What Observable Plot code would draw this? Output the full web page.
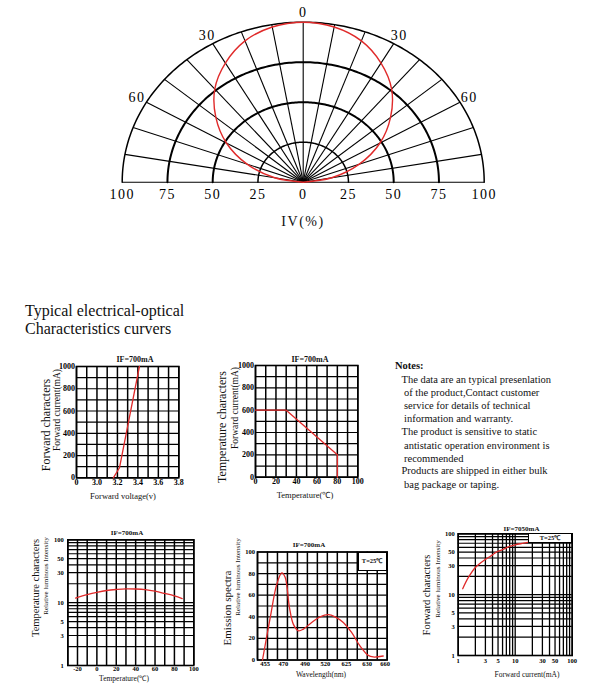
<!DOCTYPE html>
<html><head><meta charset="utf-8">
<script src="https://cdn.jsdelivr.net/npm/d3@7"></script>
<script src="https://cdn.jsdelivr.net/npm/@observablehq/plot@0.6"></script>
<style>
body{margin:0;background:#fff;}
#page{position:relative;width:602px;height:693px;overflow:hidden;font-family:"Liberation Serif","Times New Roman",serif;color:#111;}
.abs{position:absolute;white-space:nowrap;line-height:1;}
svg{overflow:visible;}
</style></head><body><div id="page"></div>
<script>
// ---------- DATA ----------
// Polar radiation pattern
const polarAngles = [-90,-80,-70,-60,-50,-40,-30,-20,-10,0,10,20,30,40,50,60,70,80,90];
const polarIntensity = [0,16,33,49,63,76,86,94,98.5,100,98.5,94,86,76,63,49,33,16,0];
const polarRings = [25,50,75,100];
const polarSpokes = [0,10,20,30,40,50,60,70,80,90,100,110,120,130,140,150,160,170,180];
const polarAngleLabels = [-60,-30,0,30,60];
const polarTicks = [-100,-75,-50,-25,0,25,50,75,100];

// Chart 1: forward voltage vs forward current
const fvVoltage = [3.16,3.22,3.415];
const fvCurrent = [0,90,1000];
const fvXGrid = [2.8,2.9,3.0,3.1,3.2,3.3,3.4,3.5,3.6,3.7,3.8];
const fvXTicks = [2.8,3.0,3.2,3.4,3.6,3.8];
const fvXTickLabels = ["0","3.0","3.2","3.4","3.6","3.8"];
const currentGrid = [0,100,200,300,400,500,600,700,800,900,1000];
const currentTicks = [0,200,400,600,800,1000];

// Chart 2: temperature vs forward current (derating)
const tcTemp = [0,30,80,80];
const tcCurrent = [600,600,200,0];
const tcXGrid = [0,10,20,30,40,50,60,70,80,90,100];
const tcXTicks = [0,20,40,60,80,100];

// Chart 3: temperature vs relative luminous intensity
const trTemp = [-22,-10,0,10,20,30,40,50,60,70,80,88];
const trIntensity = [11.8,13.4,14.6,15.6,16.2,16.6,16.5,16.1,15.2,14.0,12.8,11.6];
const trXGrid = [-30,-20,-10,0,10,20,30,40,50,60,70,80,90,100];
const trXTicks = [-20,0,20,40,60,80,100];
const logGrid = [1,2,3,4,5,6,7,8,9,10,20,30,40,50,60,70,80,90,100];
const logTicks = [1,3,5,10,30,50,100];

// Chart 4: emission spectrum (x in grid-column units of the printed axis)
const esColumn = [0.5,1.27,1.93,2.43,2.77,3.2,3.6,4.1,4.6,5.43,6.27,7.1,7.77,8.6,9.43,10.27,11.1,11.6,12.6];
const esIntensity = [0,39,70,80.7,76.7,48.8,33,27,28.6,34.8,40,42,40,34.8,25.5,13,4.3,2.8,3.7];
const esXGrid = [0,1,2,3,4,5,6,7,8,9,10,11,12,13];
const esXTickPos = [0.77,2.6,4.77,6.8,8.9,11,12.8];
const esXTickLabels = ["455","470","490","520","625","630","660"];
const esYGrid = [0,10,20,30,40,50,60,70,80,90,100];
const esYTicks = [0,20,40,60,80,100];

// Chart 5: forward current vs relative luminous intensity (log-log)
const fcCurrent = [1.2,1.5,2,3,4,4.5,6,8,10,14,19];
const fcIntensity = [12.5,19,28,38,45,49,55,62,66,70,74];

// ---------- HELPERS ----------
const page = document.getElementById("page");
const RED = "#e02a2a";
const FONT = "Liberation Serif, Times New Roman, serif";

function txt(s, cx, cy, o = {}) {
  const d = document.createElement("div");
  d.className = "abs";
  d.textContent = s;
  d.style.fontSize = (o.size || 10) + "px";
  d.style.fontWeight = o.weight || "normal";
  d.style.left = cx + "px";
  d.style.top = cy + "px";
  if (o.spacing) d.style.letterSpacing = o.spacing + "px";
  const tx = o.left ? "0" : "-50%";
  d.style.transform = `translate(${tx},-50%)`;
  if (o.rotate) d.style.transform = `translate(-50%,-50%) rotate(${o.rotate}deg)`;
  page.appendChild(d);
  return d;
}
function box(x0, y0, x1, y1, label, size) {
  const d = document.createElement("div");
  d.className = "abs";
  Object.assign(d.style, {left: x0 + "px", top: y0 + "px", width: (x1 - x0) + "px", height: (y1 - y0) + "px",
    background: "#fff", border: "1px solid #000", boxSizing: "border-box", display: "flex",
    alignItems: "center", justifyContent: "center", fontSize: size + "px", fontWeight: "bold"});
  d.textContent = label;
  page.appendChild(d);
}
function place(svg, left, top) {
  svg.style.position = "absolute";
  svg.style.left = left + "px";
  svg.style.top = top + "px";
  page.appendChild(svg);
}
function small({frame, sbox, x, y, marks, fontSize}) {
  const [x0, y0, x1, y1] = frame;
  const [sx, sy, sw, sh] = sbox;
  const svg = Plot.plot({
    width: sw, height: sh,
    marginLeft: x0 - sx, marginRight: sx + sw - x1, marginTop: y0 - sy, marginBottom: sy + sh - y1,
    x: {...x, axis: null}, y: {...y, axis: null},
    style: {fontFamily: FONT, fontSize: fontSize + "px", fontWeight: "bold", overflow: "visible", color: "#000"},
    marks
  });
  place(svg, sx, sy);
}
const gridX = (v, w = 1.3) => Plot.ruleX(v, {stroke: "#000", strokeWidth: w});
const gridY = (v, w = 1.3) => Plot.ruleY(v, {stroke: "#000", strokeWidth: w});
const frameMark = () => Plot.frame({stroke: "#000", strokeWidth: 1.6});
const xLabels = (ticks, pad, labels) => Plot.text(ticks, {x: d => d, text: (d, i) => labels ? labels[i] : String(d), frameAnchor: "bottom", lineAnchor: "top", dy: pad, fill: "#000"});
const yLabels = (ticks, pad) => Plot.text(ticks, {y: d => d, text: d => String(d), frameAnchor: "left", textAnchor: "end", dx: -pad, fill: "#000"});

// ---------- POLAR ----------
const rad = d => d * Math.PI / 180;
const ringPts = polarRings.flatMap(r => d3.range(0, 181, 1).map(a => ({r, x: r * Math.cos(rad(a)), y: r * Math.sin(rad(a))})));
const redPts = polarAngles.map((a, i) => ({x: polarIntensity[i] * Math.sin(rad(a)), y: polarIntensity[i] * Math.cos(rad(a))}));
const polar = Plot.plot({
  width: 602, height: 240,
  marginLeft: 121.7, marginRight: 118.3, marginTop: 21.7, marginBottom: 58.3,
  x: {domain: [-100, 100], axis: null},
  y: {domain: [0, 100], axis: null},
  style: {fontFamily: FONT, fontSize: "14px", overflow: "visible", color: "#000", letterSpacing: "1.5px"},
  marks: [
    Plot.link(polarSpokes, {x1: () => 0, y1: () => 0, x2: a => 100 * Math.cos(rad(a)), y2: a => 100 * Math.sin(rad(a)), stroke: "#000", strokeWidth: 1.1}),
    ...polarRings.map(r => Plot.line(ringPts.filter(p => p.r === r), {x: "x", y: "y", stroke: "#000", strokeWidth: (r === 50 || r === 75) ? 2 : 1.5})),
    Plot.line(redPts, {x: "x", y: "y", curve: "catmull-rom", stroke: RED, strokeWidth: 1.4}),
    Plot.text(polarTicks, {x: d => d, y: () => 0, text: d => String(Math.abs(d)), dy: 12, fill: "#000"}),
    Plot.text(polarAngleLabels, {x: a => 106 * Math.sin(rad(a)), y: a => 106 * Math.cos(rad(a)), text: a => String(Math.abs(a)), fill: "#000"})
  ]
});
place(polar, 0, 0);
txt("IV(%)", 303, 222, {size: 14, spacing: 1.5});

// ---------- TITLE ----------
txt("Typical electrical-optical", 25, 311, {size: 16, left: true});
txt("Characteristics curvers", 25, 329, {size: 16, left: true});

// ---------- CHART 1 ----------
small({
  frame: [76, 366, 178.3, 477.3], sbox: [40, 350, 150, 150], fontSize: 8,
  x: {domain: [2.8, 3.8]}, y: {domain: [0, 1000]},
  marks: [
    gridX(fvXGrid, 1.5), gridY(currentGrid, 1.2), frameMark(),
    Plot.line(fvVoltage.map((v, i) => ({v, c: fvCurrent[i]})), {x: "v", y: "c", stroke: RED, strokeWidth: 1.3}),
    xLabels(fvXTicks, 2, fvXTickLabels),
    yLabels(currentTicks, 1.5)
  ]
});
txt("IF=700mA", 135, 360, {size: 8, weight: "bold"});
txt("Forward voltage(v)", 123, 495.5, {size: 8.5});
txt("Forward current(mA)", 57.5, 410, {size: 9.5, rotate: -90});
txt("Forward characters", 46, 425, {size: 12, rotate: -90});

// ---------- CHART 2 ----------
small({
  frame: [255, 365, 357.3, 476.7], sbox: [225, 350, 150, 150], fontSize: 8,
  x: {domain: [0, 100]}, y: {domain: [0, 1000]},
  marks: [
    gridX(tcXGrid, 1.5), gridY(currentGrid, 1.2), frameMark(),
    Plot.line(tcTemp.map((t, i) => ({t, c: tcCurrent[i]})), {x: "t", y: "c", stroke: RED, strokeWidth: 1.3}),
    xLabels(tcXTicks, 1),
    yLabels(currentTicks, 1.5)
  ]
});
txt("IF=700mA", 310, 360, {size: 8, weight: "bold"});
txt("Temperature(\u2103)", 305, 495, {size: 8.5});
txt("Forward current(mA)", 236, 408, {size: 9.5, rotate: -90});
txt("Temperature characters", 222, 427, {size: 12, rotate: -90});

// ---------- NOTES ----------
txt("Notes:", 395, 366, {size: 10.5, weight: "bold", left: true});
const notes = [
  ["The data are an typical presenlation", 401.5, 379.5],
  ["of the product,Contact customer", 404, 393],
  ["service for details of technical", 404, 405.5],
  ["information and warranty.", 404, 419],
  ["The product is sensitive to static", 401.5, 432],
  ["antistatic operation environment is", 404, 445.5],
  ["recommended", 404, 458.5],
  ["Products are shipped in either bulk", 401.5, 471],
  ["bag package or taping.", 404, 484.5]
];
notes.forEach(([s, x, y]) => txt(s, x, y, {size: 10.5, left: true}));

// ---------- CHART 3 ----------
small({
  frame: [67.3, 539.3, 193.3, 665], sbox: [40, 525, 170, 160], fontSize: 6.5,
  x: {domain: [-30, 100]}, y: {type: "log", domain: [1, 100]},
  marks: [
    gridX(trXGrid, 1.5), gridY(logGrid, 1.2), frameMark(),
    Plot.line(trTemp.map((t, i) => ({t, v: trIntensity[i]})), {x: "t", y: "v", curve: "catmull-rom", stroke: RED, strokeWidth: 1.3}),
    xLabels(trXTicks, 1),
    yLabels(logTicks, 4)
  ]
});
txt("IF=700mA", 127, 533, {size: 7, weight: "bold"});
txt("Temperature(\u2103)", 124, 679, {size: 7.5});
txt("Relative luminous Intensity", 46, 576, {size: 7, rotate: -90});
txt("Temperature characters", 36, 588, {size: 10.5, rotate: -90});

// ---------- CHART 4 ----------
small({
  frame: [257, 551.5, 386.7, 659.5], sbox: [235, 535, 165, 150], fontSize: 6.5,
  x: {domain: [0, 13]}, y: {domain: [0, 100]},
  marks: [
    gridX(esXGrid, 1.5), gridY(esYGrid, 1.2), frameMark(),
    Plot.line(esColumn.map((c, i) => ({c, v: esIntensity[i]})), {x: "c", y: "v", curve: "catmull-rom", stroke: RED, strokeWidth: 1.3}),
    xLabels(esXTickPos, 1.5, esXTickLabels),
    yLabels(esYTicks, 2.5)
  ]
});
box(357.5, 551.5, 386.7, 571, "T=25\u2103", 6.5);
txt("IF=700mA", 309, 545, {size: 7, weight: "bold"});
txt("Wavelength(nm)", 321, 674.5, {size: 7.5});
txt("Relative luminous Intensity", 238, 576.5, {size: 7, rotate: -90});
txt("Emission spectra", 227, 608, {size: 11, rotate: -90});

// ---------- CHART 5 ----------
small({
  frame: [457.7, 533.3, 571.7, 655], sbox: [435, 520, 160, 150], fontSize: 6.5,
  x: {type: "log", domain: [1, 100]}, y: {type: "log", domain: [1, 100]},
  marks: [
    gridX(logGrid, 1.3), gridY(logGrid, 1.2), frameMark(),
    Plot.line(fcCurrent.map((c, i) => ({c, v: fcIntensity[i]})), {x: "c", y: "v", curve: "catmull-rom", stroke: RED, strokeWidth: 1.3}),
    xLabels(logTicks, 3),
    yLabels(logTicks, 3.5)
  ]
});
box(528.3, 533.3, 571.7, 543, "T=25\u2103", 6.5);
txt("IF=7050mA", 521.5, 529, {size: 7, weight: "bold"});
txt("Forward current(mA)", 527, 674.5, {size: 7.5});
txt("Relative luminous Intensity", 438, 578.5, {size: 7, rotate: -90});
txt("Forward characters", 427, 595, {size: 10.5, rotate: -90});
</script></body></html>
